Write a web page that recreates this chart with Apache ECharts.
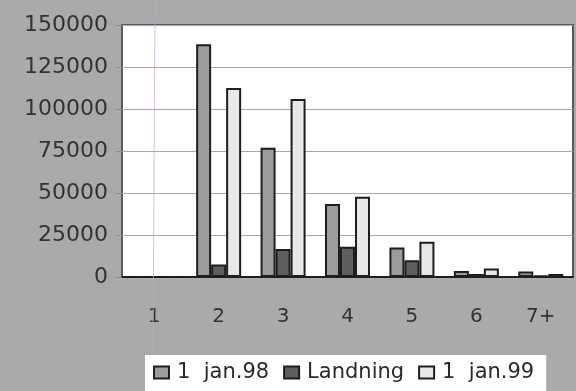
<!DOCTYPE html>
<html>
<head>
<meta charset="utf-8">
<script src="https://cdn.jsdelivr.net/npm/echarts@6/dist/echarts.min.js"></script>
<style>
  html, body { margin: 0; padding: 0; background: #aaaaaa; }
  #chart { width: 576px; height: 391px; }
</style>
</head>
<body>
<div id="chart"></div>
<script>
// Age groups along the x axis
const categories = ['1', '2', '3', '4', '5', '6', '7+'];
// Stock on 1 Jan 1998, landings, stock on 1 Jan 1999
const stock98 = [0, 138500, 77000, 43500, 17500, 3600, 3200];
const landings = [0, 7500, 16700, 18000, 10000, 1800, 800];
const stock99 = [0, 112500, 106000, 47800, 21000, 5000, 1800];
const seriesNames = ['1  jan.98', 'Landning', '1  jan.99'];
const yTicks = { min: 0, max: 150000, interval: 25000 };

const font = 'DejaVu Sans';
const chart = echarts.init(document.getElementById('chart'), null, { renderer: 'canvas' });

// Shared bar look: touching bars with a dark outline
const makeBar = (name, data, color) => ({
  name: name, type: 'bar', data: data,
  barWidth: 15, barGap: '0%',
  itemStyle: { color: color, borderColor: '#1e1e1e', borderWidth: 2 }
});

chart.setOption({
  animation: false,
  backgroundColor: '#aaaaaa',
  textStyle: { fontFamily: font },
  grid: {
    left: 122, right: 3, top: 25, bottom: 114,
    show: true, backgroundColor: '#ffffff', borderColor: '#5a5a5a', borderWidth: 2
  },
  legend: {
    bottom: 0, left: 145,
    padding: [7, 12, 8, 8],
    backgroundColor: '#ffffff',
    itemWidth: 15, itemHeight: 12, itemGap: 14,
    icon: 'rect',
    textStyle: { fontFamily: font, fontSize: 21, color: '#2a2a2a', padding: [0, 0, 0, 3] },
    data: seriesNames
  },
  xAxis: {
    type: 'category',
    data: categories,
    axisLine: { lineStyle: { color: '#1e1e1e', width: 2 } },
    axisTick: { show: false },
    axisLabel: { fontFamily: font, fontSize: 20, color: '#333333', margin: 30 }
  },
  yAxis: {
    type: 'value',
    min: yTicks.min, max: yTicks.max, interval: yTicks.interval,
    axisLine: { show: false },
    axisTick: { show: true, length: 6, lineStyle: { color: '#8a8a8a' } },
    splitLine: { lineStyle: { color: '#a8a8a8', width: 1 } },
    axisLabel: {
      fontFamily: font, fontSize: 22, color: '#333333', margin: 14,
      formatter: (v) => String(v)
    }
  },
  series: [
    makeBar(seriesNames[0], stock98, '#9c9c9c'),
    makeBar(seriesNames[1], landings, '#5e5e5e'),
    makeBar(seriesNames[2], stock99, '#e8e8e8')
  ],
  graphic: [
    {
      type: 'line', z: 100, silent: true,
      shape: { x1: 155, y1: 0, x2: 153, y2: 355 },
      style: { stroke: '#c7a2d8', lineWidth: 1, opacity: 0.7 }
    }
  ]
});
</script>
</body>
</html>
